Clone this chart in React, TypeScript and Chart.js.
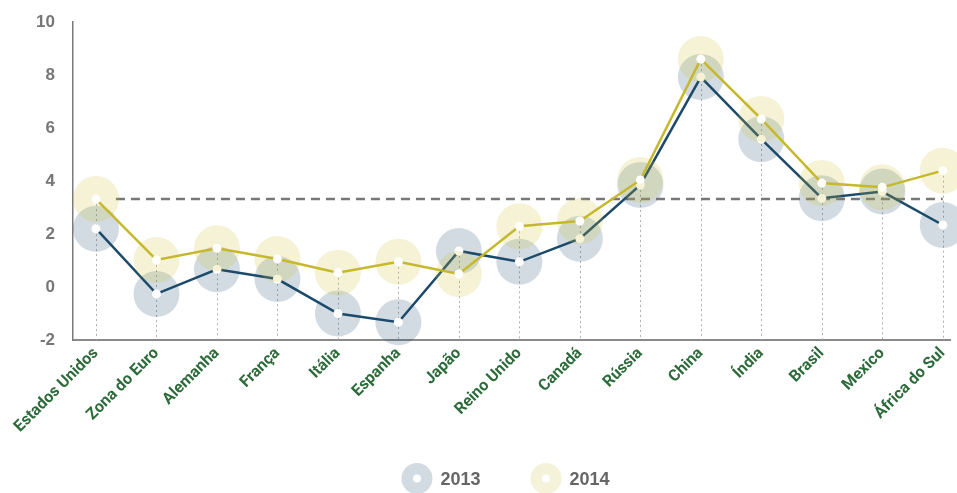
import React, { useEffect, useRef } from "react";
import { Chart, registerables } from "chart.js";

Chart.register(...registerables);

const categories = [
  "Estados Unidos", "Zona do Euro", "Alemanha", "França", "Itália", "Espanha", "Japão",
  "Reino Unido", "Canadá", "Rússia", "China", "Índia", "Brasil", "Mexico", "África do Sul",
];
const values2013 = [2.2, -0.26, 0.67, 0.3, -1.0, -1.33, 1.36, 0.95, 1.82, 3.85, 7.92, 5.58, 3.35, 3.6, 2.34];
const values2014 = [3.32, 1.02, 1.46, 1.06, 0.54, 0.95, 0.49, 2.29, 2.49, 4.04, 8.6, 6.34, 3.92, 3.76, 4.39];
const referenceValue = 3.32;
const referenceStart = 0.33;
const seriesNames = ["2013", "2014"];
const yTicks = [-2, 0, 2, 4, 6, 8, 10];

const COLOR_2013_LINE = "#1c4a6b";
const COLOR_2014_LINE = "#c6b82c";
const COLOR_2013_BUBBLE = "rgba(30,75,110,0.2)";
const COLOR_2014_BUBBLE = "rgba(205,188,50,0.2)";
const LEGEND_COLORS = ["#d2dbe2", "#f5f2da"];

const noPadding = () => ({ left: 0, right: 0, top: 0, bottom: 0 });

const dropLines = {
  id: "dropLines",
  beforeDatasetsDraw(chart: any) {
    const { ctx, chartArea, scales } = chart;
    ctx.save();
    ctx.strokeStyle = "#b0b0b0";
    ctx.lineWidth = 1;
    ctx.setLineDash([2, 3]);
    categories.forEach((_, i) => {
      const x = Math.round(scales.x.getPixelForValue(i)) + 0.5;
      const top = scales.y.getPixelForValue(Math.max(values2013[i], values2014[i]));
      ctx.beginPath();
      ctx.moveTo(x, top);
      ctx.lineTo(x, chartArea.bottom);
      ctx.stroke();
    });
    ctx.restore();
  },
};

const bubbleLegend = {
  id: "bubbleLegend",
  afterDraw(chart: any) {
    const { ctx, chartArea } = chart;
    ctx.save();
    ctx.font = "bold 18px 'Liberation Sans', Arial, sans-serif";
    ctx.textBaseline = "middle";
    ctx.textAlign = "left";
    const r = 15.5;
    const gapIcon = 8;
    const gapItem = 50;
    const widths = seriesNames.map((n) => ctx.measureText(n).width);
    const total = widths.reduce((a, w) => a + 2 * r + gapIcon + w, 0) + gapItem * (seriesNames.length - 1);
    let x = (chartArea.left + chartArea.right) / 2 - 6 - total / 2;
    const y = chart.height - 13;
    seriesNames.forEach((name, i) => {
      ctx.fillStyle = LEGEND_COLORS[i];
      ctx.beginPath();
      ctx.arc(x + r, y - 1.5, r, 0, Math.PI * 2);
      ctx.fill();
      ctx.fillStyle = "#ffffff";
      ctx.beginPath();
      ctx.arc(x + r, y - 1.5, 4, 0, Math.PI * 2);
      ctx.fill();
      ctx.fillStyle = "#666666";
      ctx.fillText(name, x + 2 * r + gapIcon, y);
      x += 2 * r + gapIcon + widths[i] + gapItem;
    });
    ctx.restore();
  },
};

export default function App() {
  const ref = useRef<HTMLCanvasElement>(null);

  useEffect(() => {
    document.body.style.margin = "0";
    document.body.style.overflow = "hidden";
    const pts13 = categories.map((_, i) => ({ x: i, y: values2013[i] }));
    const pts14 = categories.map((_, i) => ({ x: i, y: values2014[i] }));
    const refPts = [
      { x: referenceStart, y: referenceValue },
      { x: categories.length - 1, y: referenceValue },
    ];

    const chart = new Chart(ref.current!, {
      type: "line",
      data: {
        datasets: [
          {
            label: seriesNames[0],
            data: pts13,
            showLine: false,
            pointRadius: 23,
            pointBackgroundColor: COLOR_2013_BUBBLE,
            pointBorderWidth: 0,
            borderWidth: 0,
            clip: false,
            order: 6,
          } as any,
          {
            label: "ref",
            data: refPts,
            borderColor: "#777777",
            borderWidth: 2.5,
            borderDash: [9, 6],
            pointRadius: 0,
            order: 5,
          },
          {
            label: seriesNames[0] + " line",
            data: pts13,
            borderColor: COLOR_2013_LINE,
            borderWidth: 2.5,
            pointRadius: 4.5,
            pointBackgroundColor: "#ffffff",
            pointBorderWidth: 0,
            tension: 0,
            clip: false,
            order: 4,
          } as any,
          {
            label: seriesNames[1],
            data: pts14,
            showLine: false,
            pointRadius: 23,
            pointBackgroundColor: COLOR_2014_BUBBLE,
            pointBorderWidth: 0,
            borderWidth: 0,
            clip: false,
            order: 3,
          } as any,
          {
            label: seriesNames[1] + " line",
            data: pts14,
            borderColor: COLOR_2014_LINE,
            borderWidth: 2.5,
            pointRadius: 4.5,
            pointBackgroundColor: "#ffffff",
            pointBorderWidth: 0,
            tension: 0,
            clip: false,
            order: 2,
          } as any,
        ],
      },
      options: {
        animation: false,
        responsive: false,
        events: [],
        layout: { autoPadding: false, padding: { top: 22, right: 7, left: 0, bottom: 0 } },
        plugins: {
          tooltip: { enabled: false },
          legend: { display: false },
        },
        scales: {
          x: {
            type: "linear",
            min: -0.38,
            max: categories.length - 1 + 0.12,
            grid: { display: false, drawTicks: false },
            border: { display: true, color: "#8a8a8a", width: 2 },
            afterBuildTicks: (s: any) => {
              s.ticks = categories.map((_, i) => ({ value: i }));
            },
            afterFit: (s: any) => {
              s.height = 153;
              s.paddingLeft = 0;
              s.paddingRight = 0;
              s.paddingTop = 0;
              s.paddingBottom = 0;
              s.getPadding = noPadding;
            },
            ticks: {
              autoSkip: false,
              minRotation: 45,
              maxRotation: 45,
              padding: 4,
              color: "#2d6b3b",
              font: { family: "Roboto, 'Liberation Sans', sans-serif", size: 16, weight: "bold" },
              callback: (v: any) => categories[v as number] ?? "",
            },
          },
          y: {
            type: "linear",
            min: yTicks[0],
            max: yTicks[yTicks.length - 1],
            grid: { display: false, drawTicks: false },
            border: { display: true, color: "#7a7a7a", width: 1.5 },
            afterBuildTicks: (s: any) => {
              s.ticks = yTicks.map((v) => ({ value: v }));
            },
            afterFit: (s: any) => {
              s.width = 73;
              s.paddingLeft = 0;
              s.paddingRight = 0;
              s.paddingTop = 0;
              s.paddingBottom = 0;
              s.getPadding = noPadding;
            },
            ticks: {
              padding: 18,
              color: "#777777",
              font: { family: "'Liberation Sans', Arial, sans-serif", size: 17, weight: "bold" },
            },
          },
        },
      },
      plugins: [dropLines, bubbleLegend],
    });
    return () => chart.destroy();
  }, []);

  return (
    <div style={{ position: "relative", width: 957, height: 493 }}>
      <canvas ref={ref} width={957} height={493} style={{ display: "block" }} />
    </div>
  );
}
